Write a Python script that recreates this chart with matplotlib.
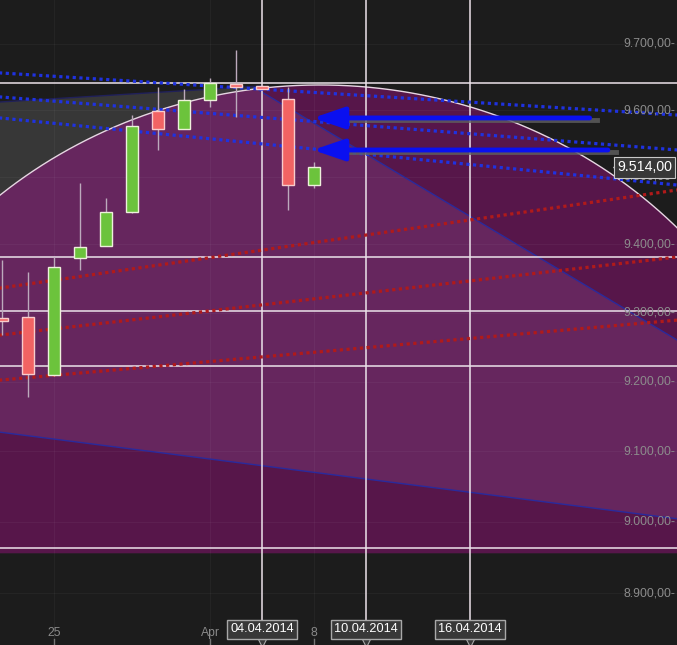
import numpy as np
import matplotlib
matplotlib.use('Agg')
import matplotlib.pyplot as plt
from matplotlib.patches import Polygon

plt.rcParams['font.family'] = ['Liberation Sans', 'DejaVu Sans']

# candles (one per trading day)
opens  = [9292, 9294, 9210, 9380, 9398, 9448, 9599, 9572, 9615, 9640, 9637, 9617, 9488]
highs  = [9377, 9359, 9381, 9491, 9469, 9593, 9635, 9632, 9648, 9691, 9638, 9635, 9522]
lows   = [9267, 9178, 9208, 9362, 9397, 9446, 9540, 9571, 9605, 9590, 9631, 9451, 9483]
closes = [9288, 9211, 9367, 9396, 9448, 9576, 9572, 9615, 9641, 9635, 9632, 9488, 9515]
last_price = 9514

tick_pos = [2, 8, 12]
tick_text = ['25', 'Apr', '8']
date_pos = [10, 14, 18]
date_text = ['04.04.2014', '10.04.2014', '16.04.2014']
price_ticks = [8900, 9000, 9100, 9200, 9300, 9400, 9500, 9600, 9700]

# fibonacci retracement
fib_high = 9641
fib_low = 8963
fib_levels = [0, 0.382, 0.5, 0.618, 1.0]

# dotted trend lines, prices at x = -1 and x = 27
line_x = [-1, 27]
blue_lines = [[9658.3, 9590.0], [9622.6, 9537.0], [9591.7, 9483.9]]
red_lines = [[9330.8, 9486.3], [9263.3, 9386.0], [9199.1, 9292.6]]

# drawing objects
diag_x, diag_p = [9.73, 27], [9633.3, 9236.9]
base_x, base_p = [-1, 27], [9131.8, 8999.5]
gray_x, gray_p = [-1, 10], [9609.9, 9636.3]
arc_center, arc_half_width = 12.23, 19.1
arc_base, arc_top = 8956, 9637.8

arrow_tip = 11.96
arrow_tails = [22.6, 23.3]
arrow_prices = [9588.1, 9540.1]
shadow_prices = [9584.6, 9536.6]

bg = '#1c1c1c'
fig = plt.figure(figsize=(6.77, 6.45), dpi=100, facecolor=bg)
ax = fig.add_axes([0, 0, 1, 1])
ax.set_facecolor(bg)
ax.set_yscale('log')
ax.set_xlim(-0.077, 25.96)
ax.set_ylim(8828, 9767)
ax.set_xticks([])
ax.set_yticks([])
ax.yaxis.set_minor_locator(matplotlib.ticker.NullLocator())
for s in ax.spines.values():
    s.set_visible(False)

# gray area above the arc
ax.add_patch(Polygon([(gray_x[0], gray_p[0]), (gray_x[1], gray_p[1]),
                      (gray_x[1], 9300), (gray_x[0], 9300)],
                     closed=True, fc='#373737', ec='none', zorder=1))
ax.plot(gray_x, gray_p, color='#20205a', lw=1, zorder=1.5)

# arc (half ellipse in log space)
t = np.linspace(0, np.pi, 300)
ax_x = arc_center + arc_half_width * np.cos(t)
ax_p = np.exp(np.log(arc_base) + np.log(arc_top / arc_base) * np.sin(t))
ell = Polygon(np.column_stack([ax_x, ax_p]), closed=True, fc='#66265e', ec='none', zorder=2)
ax.add_patch(ell)
ax.plot(ax_x, ax_p, color='#e6d6e2', lw=1, zorder=4)

dark = '#57164a'
pa = Polygon([(diag_x[0], diag_p[0]), (diag_x[1], diag_p[1]), (diag_x[1], 9800), (diag_x[0], 9800)],
             closed=True, fc=dark, ec='none', zorder=3)
ax.add_patch(pa)
pa.set_clip_path(ell)
pb = Polygon([(base_x[0], base_p[0]), (base_x[1], base_p[1]), (base_x[1], 8800), (base_x[0], 8800)],
             closed=True, fc=dark, ec='none', zorder=3)
ax.add_patch(pb)
pb.set_clip_path(ell)
ax.plot(diag_x, diag_p, color='#2a2a9c', lw=1, zorder=3.6)
ax.plot(base_x, base_p, color='#2a2a9c', lw=1, zorder=3.6)

# faint grid
for p in price_ticks:
    ax.axhline(p, color='white', alpha=0.04, lw=0.8, zorder=3.5)
for x in tick_pos:
    ax.axvline(x, color='white', alpha=0.04, lw=0.8, zorder=3.5)
    ax.axvline(x, ymax=0.009, color='#777777', lw=1, zorder=3.5)

# fibonacci lines
for lv in fib_levels:
    ax.axhline(fib_high - lv * (fib_high - fib_low), color='#ece2ea', lw=1.1, zorder=5)

# date lines and labels
for x, lab in zip(date_pos, date_text):
    ax.axvline(x, ymin=0.037, color='#ece2ea', lw=1.1, zorder=5)
    ax.text(x, 0.0245, lab, transform=ax.get_xaxis_transform(), ha='center', va='center',
            color='white', fontsize=9.2, zorder=11,
            bbox=dict(boxstyle='square,pad=0.28', fc='#383838', ec='#a8a8a8', lw=1))
    ax.plot([x], [0.003], marker='v', ms=6, mfc='#383838', mec='#a8a8a8', mew=0.8,
            transform=ax.get_xaxis_transform(), zorder=10, clip_on=False)

for x, lab in zip(tick_pos, tick_text):
    ax.text(x, 0.019, lab, transform=ax.get_xaxis_transform(), ha='center', va='center',
            color='#8a8a8a', fontsize=8.7, zorder=10)

# dotted trend lines
for pr in blue_lines:
    ax.plot(line_x, pr, color='#1f32e0', lw=2.3, linestyle=(0, (1, 1.1)), zorder=6)
for pr in red_lines:
    ax.plot(line_x, pr, color='#b01a1a', lw=2.3, linestyle=(0, (1, 1.1)), zorder=6)

# candles
idx = np.arange(len(opens))
o = np.array(opens)
c = np.array(closes)
up = c >= o
ax.vlines(idx, lows, highs, color='#bcaabc', lw=1, zorder=7)
bottom = np.minimum(o, c)
height = np.maximum(np.abs(c - o), 3)
ax.bar(idx[up], height[up], bottom=bottom[up], width=0.47, color='#6cc33c',
       edgecolor='#eef0dc', lw=1, zorder=8)
ax.bar(idx[~up], height[~up], bottom=bottom[~up], width=0.47, color='#f26363',
       edgecolor='#f8cccc', lw=1, zorder=8)

# blue arrows
for tail, p, sp in zip(arrow_tails, arrow_prices, shadow_prices):
    ax.plot([arrow_tip + 1.0, tail + 0.3], [sp, sp], color='#606060', lw=3.5, alpha=0.8, zorder=8.5)
    ax.annotate('', xy=(arrow_tip, p), xytext=(tail, p), zorder=9,
                arrowprops=dict(arrowstyle='-|>,head_length=1.9,head_width=0.65',
                                mutation_scale=10, lw=3.5, color='#0a10f0',
                                shrinkA=0, shrinkB=0))

# price axis labels
for p in price_ticks:
    lab = '{:,.2f}'.format(p).replace(',', 'X').replace('.', ',').replace('X', '.') + '-'
    ax.text(0.998, p, lab, transform=ax.get_yaxis_transform(), ha='right', va='center',
            color='#8c8c8c', fontsize=8.7, zorder=10)

last_lab = '{:,.2f}'.format(last_price).replace(',', 'X').replace('.', ',').replace('X', '.')
ax.text(0.993, last_price, last_lab, transform=ax.get_yaxis_transform(), ha='right', va='center',
        color='white', fontsize=10.2, zorder=12,
        bbox=dict(boxstyle='square,pad=0.22', fc='#383838', ec='#c8c8c8', lw=0.8))
ax.plot([0.914], [last_price], marker='<', ms=9, mfc='#383838', mec='#c8c8c8', mew=0.8,
        transform=ax.get_yaxis_transform(), zorder=11.5)

fig.savefig('out.png', dpi=100, facecolor=bg)
